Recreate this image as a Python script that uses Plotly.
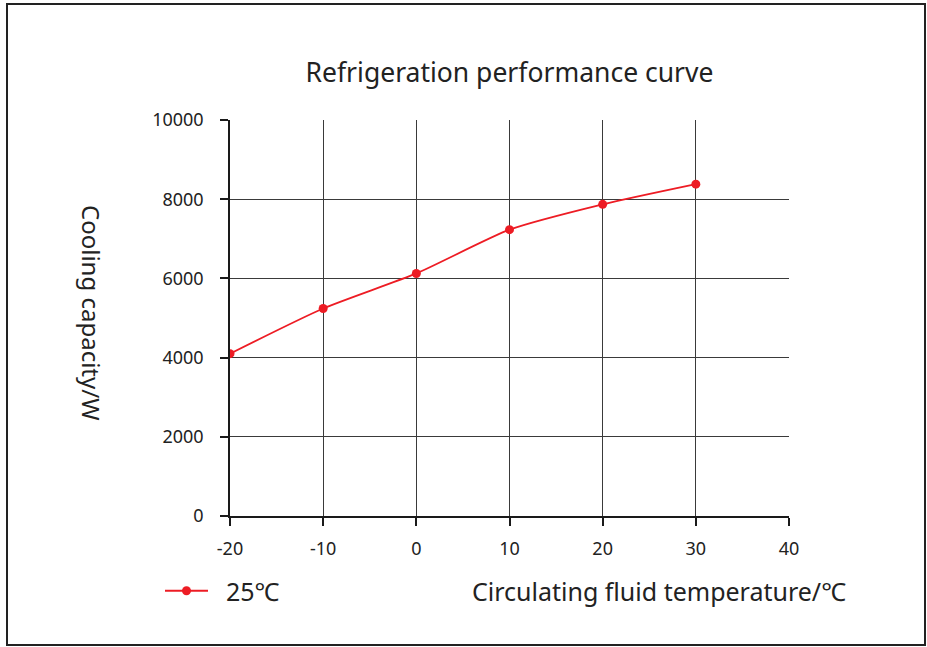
import plotly.graph_objects as go

temps = [-20, -10, 0, 10, 20, 30]
capacity = [4100, 5240, 6125, 7230, 7870, 8380]
series_name = "\u00a0\u00a025℃"
x_ticks = [-20, -10, 0, 10, 20, 30, 40]
y_ticks = [0, 2000, 4000, 6000, 8000, 10000]

FONT = "Noto Sans, Noto Sans CJK SC, sans-serif"
TXT = "#222222"
RED = "#ed1c24"

fig = go.Figure()
fig.add_trace(go.Scatter(
    x=temps, y=capacity, name=series_name, mode="lines+markers",
    line=dict(color=RED, width=1.8, shape="spline", smoothing=0.6),
    marker=dict(color=RED, size=9),
))

fig.update_layout(
    width=927, height=647,
    margin=dict(l=230, r=138, t=120, b=131),
    paper_bgcolor="white", plot_bgcolor="white",
    font=dict(family=FONT, color=TXT, size=18),
    title=dict(text="Refrigeration performance curve", x=0.5, xref="paper",
               xanchor="center", y=1 - 73 / 647, yanchor="middle",
               font=dict(size=26.5, color=TXT)),
    showlegend=True,
    legend=dict(x=(160 - 230) / 559, xanchor="left", y=(516 - 591) / 396, yanchor="middle",
                orientation="h", font=dict(size=25, color=TXT),
                itemwidth=43, bgcolor="rgba(0,0,0,0)"),
    xaxis=dict(range=[-20, 40], tickvals=x_ticks, ticktext=[str(v) for v in x_ticks],
               showgrid=True, gridcolor="#3a3a3a", gridwidth=1,
               showline=True, linecolor="#1a1a1a", linewidth=1.5,
               ticks="outside", ticklen=8, tickcolor="#1a1a1a", tickwidth=1.5,
               zeroline=False, tickfont=dict(size=18, color=TXT),
               ticklabelstandoff=8),
    yaxis=dict(range=[0, 10000], tickvals=y_ticks, ticktext=[str(v) for v in y_ticks],
               showgrid=True, gridcolor="#3a3a3a", gridwidth=1,
               showline=True, linecolor="#1a1a1a", linewidth=1.5,
               ticks="outside", ticklen=8, tickcolor="#1a1a1a", tickwidth=1.5,
               zeroline=False, tickfont=dict(size=18, color=TXT),
               ticklabelstandoff=13),
    annotations=[
        dict(text="Cooling capacity/W", xref="paper", yref="paper",
             x=(92 - 230) / 559, y=(516 - 313) / 396, textangle=90,
             showarrow=False, xanchor="center", yanchor="middle",
             font=dict(size=24, color=TXT)),
        dict(text="Circulating fluid temperature/℃", xref="paper", yref="paper",
             x=(659 - 230) / 559, y=(516 - 591) / 396,
             showarrow=False, xanchor="center", yanchor="middle",
             font=dict(size=25, color=TXT)),
    ],
    shapes=[
        dict(type="rect", xref="paper", yref="paper",
             x0=(7 - 230) / 559, x1=(925 - 230) / 559,
             y0=(516 - 645) / 396, y1=(516 - 4) / 396,
             line=dict(color="#222222", width=2), fillcolor="rgba(0,0,0,0)",
             layer="below"),
    ],
)

fig.write_html("out.html", config={"displayModeBar": False},
               post_script="document.body.style.margin='0';document.body.style.overflow='hidden';")
